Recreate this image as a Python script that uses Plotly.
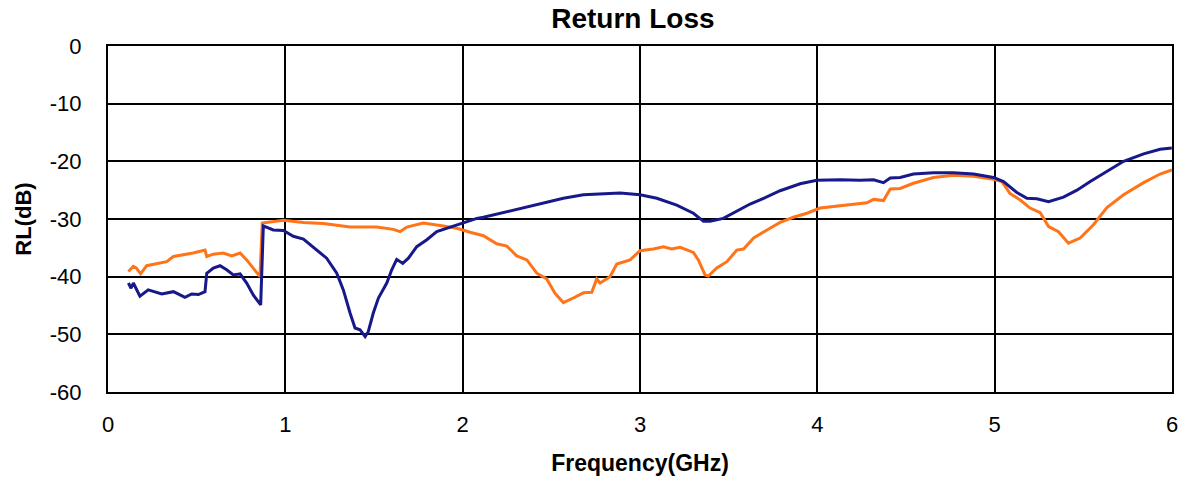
import plotly.graph_objects as go

# Return loss, blue trace
freq_blue = [0.115, 0.13, 0.143, 0.18, 0.227, 0.303, 0.369, 0.434, 0.472, 0.51, 0.547, 0.557,
             0.594, 0.632, 0.669, 0.707, 0.745, 0.782, 0.82, 0.861, 0.876, 0.932, 0.989, 1.045,
             1.102, 1.177, 1.233, 1.29, 1.327, 1.365, 1.393, 1.421, 1.45, 1.468, 1.496, 1.525,
             1.572, 1.6, 1.628, 1.662, 1.694, 1.741, 1.798, 1.854, 1.929, 2.004, 2.08, 2.117,
             2.23, 2.342, 2.455, 2.568, 2.681, 2.794, 2.888, 3.0, 3.095, 3.207, 3.301, 3.358,
             3.395, 3.47, 3.546, 3.621, 3.677, 3.79, 3.903, 3.997, 4.129, 4.241, 4.317, 4.373,
             4.411, 4.467, 4.542, 4.655, 4.768, 4.881, 4.993, 5.05, 5.125, 5.182, 5.238, 5.304,
             5.388, 5.464, 5.539, 5.633, 5.727, 5.84, 5.933, 5.999]
rl_blue = [-41.1, -42.0, -41.1, -43.4, -42.3, -43.0, -42.6, -43.6, -43.0, -43.1, -42.6, -39.4,
           -38.5, -38.1, -38.8, -39.7, -39.5, -41.1, -43.2, -44.9, -31.2, -31.9, -32.0, -33.0,
           -33.5, -35.4, -36.8, -39.4, -42.3, -46.3, -48.9, -49.2, -50.4, -49.5, -46.3, -43.7,
           -41.1, -38.8, -37.0, -37.7, -36.8, -34.8, -33.6, -32.2, -31.4, -30.6, -29.9, -29.7,
           -28.9, -28.0, -27.2, -26.4, -25.8, -25.6, -25.5, -25.8, -26.4, -27.6, -29.0, -30.4,
           -30.4, -29.9, -28.6, -27.4, -26.7, -25.1, -23.9, -23.3, -23.2, -23.3, -23.2, -23.7,
           -22.9, -22.8, -22.2, -22.0, -22.0, -22.2, -22.8, -23.5, -25.4, -26.4, -26.5, -27.0,
           -26.2, -25.0, -23.5, -21.8, -20.0, -18.7, -17.9, -17.7]

# Return loss, orange trace
freq_orange = [0.115, 0.143, 0.16, 0.184, 0.218, 0.275, 0.331, 0.369, 0.425, 0.481, 0.547, 0.557,
               0.594, 0.65, 0.698, 0.745, 0.782, 0.82, 0.857, 0.87, 0.932, 0.989, 1.102, 1.215,
               1.365, 1.515, 1.609, 1.647, 1.685, 1.778, 1.891, 1.967, 2.042, 2.117, 2.192,
               2.249, 2.305, 2.362, 2.418, 2.474, 2.521, 2.568, 2.624, 2.681, 2.728, 2.756,
               2.775, 2.831, 2.869, 2.944, 3.0, 3.075, 3.132, 3.179, 3.226, 3.301, 3.329, 3.367,
               3.386, 3.433, 3.49, 3.546, 3.584, 3.641, 3.716, 3.79, 3.865, 3.941, 4.016, 4.129,
               4.223, 4.279, 4.317, 4.373, 4.411, 4.467, 4.542, 4.655, 4.768, 4.881, 4.993,
               5.04, 5.087, 5.144, 5.2, 5.257, 5.304, 5.36, 5.416, 5.482, 5.557, 5.633, 5.727,
               5.84, 5.933, 5.999]
rl_orange = [-39.1, -38.2, -38.5, -39.5, -38.1, -37.7, -37.4, -36.5, -36.2, -35.9, -35.4, -36.5,
             -36.1, -35.9, -36.4, -35.9, -37.1, -38.5, -40.0, -30.7, -30.4, -30.2, -30.6, -30.8,
             -31.4, -31.4, -31.8, -32.2, -31.4, -30.7, -31.2, -31.6, -32.3, -32.9, -34.3,
             -34.7, -36.4, -37.1, -39.4, -40.4, -42.9, -44.5, -43.7, -42.8, -42.7, -40.4,
             -41.1, -40.0, -37.8, -37.1, -35.5, -35.2, -34.8, -35.2, -34.9, -35.8, -37.1, -39.7,
             -39.9, -38.5, -37.4, -35.4, -35.2, -33.3, -31.9, -30.6, -29.7, -29.0, -28.1, -27.7,
             -27.3, -27.2, -26.6, -26.8, -24.8, -24.7, -23.8, -22.8, -22.4, -22.6, -23.1,
             -23.5, -25.6, -26.7, -28.1, -28.9, -31.3, -32.2, -34.2, -33.3, -31.0, -28.0, -25.8,
             -23.7, -22.2, -21.5]

x_ticks = [0, 1, 2, 3, 4, 5, 6]
y_ticks = [0, -10, -20, -30, -40, -50, -60]
y_labels = ["0", "-10", "-20", "-30", "-40", "-50", "-60"]

fig = go.Figure()
fig.add_trace(go.Scatter(
    x=freq_orange, y=rl_orange, mode="lines", name="Orange",
    line=dict(color="#FF7418", width=3),
))
fig.add_trace(go.Scatter(
    x=freq_blue, y=rl_blue, mode="lines", name="Blue",
    line=dict(color="#17188A", width=3),
))

fig.update_layout(
    width=1183, height=485,
    paper_bgcolor="white", plot_bgcolor="white",
    font=dict(family="Liberation Sans, Arial, sans-serif", color="black", size=22),
    title=dict(text="<b>Return Loss</b>", x=0.535, xanchor="center", y=0.962, yanchor="middle",
               font=dict(size=28), automargin=False),
    showlegend=False,
    margin=dict(l=108, r=11, t=46, b=93, autoexpand=False),
    xaxis=dict(
        range=[0, 6], tickvals=x_ticks, showgrid=True, gridcolor="black", gridwidth=2,
        showline=True, linecolor="black", linewidth=2, mirror=True, zeroline=False,
        ticks="", ticklabelstandoff=12, automargin=False, ticklabeloverflow="allow",
        title=dict(text="<b>Frequency(GHz)</b>", standoff=18, font=dict(size=23)),
    ),
    yaxis=dict(
        range=[-60, 0], tickvals=y_ticks, ticktext=y_labels, showgrid=True,
        gridcolor="black", gridwidth=2,
        showline=True, linecolor="black", linewidth=2, mirror=True, zeroline=False,
        ticks="", ticklabelstandoff=20, automargin=False,
        title=dict(text="<b>RL(dB)</b>", standoff=12, font=dict(size=22)),
    ),
)

# drop the browser's default body margin so the figure fills the window
fig.write_html("out.html", config={"displayModeBar": False},
               post_script="document.body.style.margin = '0';")
